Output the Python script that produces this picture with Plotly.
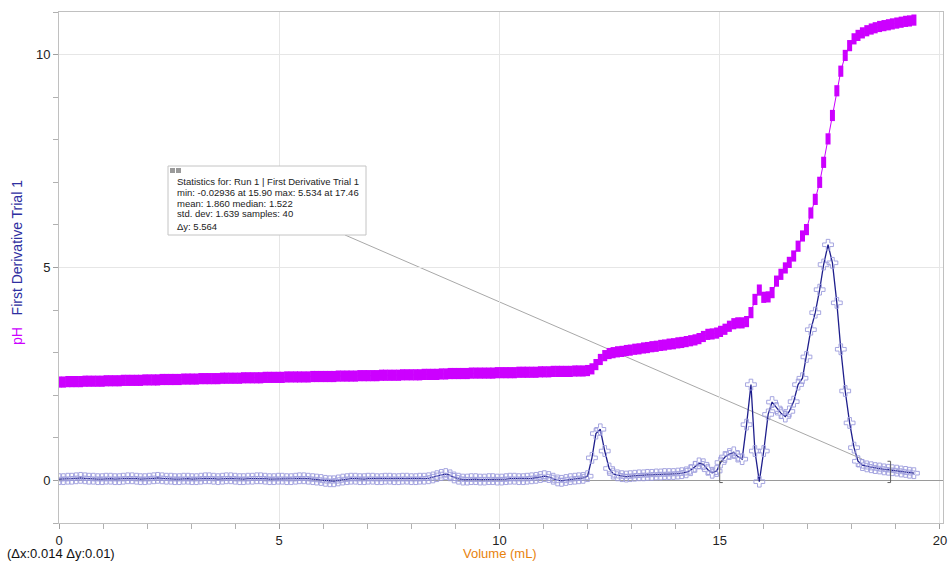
import plotly.graph_objects as go

# ---- data: titration run (volume of titrant added, pH, first derivative) ----
volume_ml = [
    0.00, 0.10, 0.20, 0.29, 0.39, 0.49, 0.59, 0.68, 0.78, 0.88,
    0.98, 1.07, 1.17, 1.27, 1.37, 1.46, 1.56, 1.66, 1.76, 1.85,
    1.95, 2.05, 2.15, 2.24, 2.34, 2.44, 2.54, 2.63, 2.73, 2.83,
    2.93, 3.02, 3.12, 3.22, 3.32, 3.41, 3.51, 3.61, 3.71, 3.80,
    3.90, 4.00, 4.10, 4.19, 4.29, 4.39, 4.49, 4.58, 4.68, 4.78,
    4.88, 4.98, 5.07, 5.17, 5.27, 5.37, 5.46, 5.56, 5.66, 5.76,
    5.85, 5.95, 6.05, 6.15, 6.24, 6.34, 6.44, 6.54, 6.63, 6.73,
    6.83, 6.93, 7.02, 7.12, 7.22, 7.32, 7.41, 7.51, 7.61, 7.71,
    7.80, 7.90, 8.00, 8.10, 8.19, 8.29, 8.39, 8.49, 8.58, 8.68,
    8.78, 8.88, 8.97, 9.07, 9.17, 9.27, 9.36, 9.46, 9.56, 9.66,
    9.76, 9.85, 9.95, 10.05, 10.15, 10.24, 10.34, 10.44, 10.54, 10.63,
    10.73, 10.83, 10.93, 11.02, 11.12, 11.22, 11.32, 11.41, 11.51, 11.61,
    11.71, 11.80, 11.90, 12.00, 12.10, 12.19, 12.29, 12.39, 12.49, 12.58,
    12.68, 12.78, 12.88, 12.97, 13.07, 13.17, 13.27, 13.36, 13.46, 13.56,
    13.66, 13.75, 13.85, 13.95, 14.05, 14.14, 14.24, 14.34, 14.44, 14.53,
    14.63, 14.73, 14.83, 14.93, 15.02, 15.12, 15.22, 15.32, 15.41, 15.51,
    15.61, 15.71, 15.80, 15.90, 16.00, 16.10, 16.19, 16.29, 16.39, 16.49,
    16.58, 16.68, 16.78, 16.88, 16.97, 17.07, 17.17, 17.27, 17.36, 17.46,
    17.56, 17.66, 17.75, 17.85, 17.95, 18.05, 18.14, 18.24, 18.34, 18.44,
    18.53, 18.63, 18.73, 18.83, 18.92, 19.02, 19.12, 19.22, 19.31, 19.41,
]

ph_values = [
    2.31, 2.31, 2.32, 2.32, 2.32, 2.32, 2.33, 2.33, 2.33, 2.33,
    2.33, 2.34, 2.34, 2.34, 2.34, 2.35, 2.35, 2.35, 2.35, 2.35,
    2.36, 2.36, 2.36, 2.36, 2.37, 2.37, 2.37, 2.37, 2.37, 2.38,
    2.38, 2.38, 2.38, 2.39, 2.39, 2.39, 2.39, 2.39, 2.40, 2.40,
    2.40, 2.40, 2.40, 2.41, 2.41, 2.41, 2.41, 2.41, 2.42, 2.42,
    2.42, 2.42, 2.42, 2.43, 2.43, 2.43, 2.43, 2.43, 2.43, 2.44,
    2.44, 2.44, 2.44, 2.44, 2.44, 2.45, 2.45, 2.45, 2.45, 2.45,
    2.46, 2.46, 2.46, 2.46, 2.46, 2.47, 2.47, 2.47, 2.47, 2.47,
    2.48, 2.48, 2.48, 2.48, 2.48, 2.49, 2.49, 2.49, 2.49, 2.50,
    2.50, 2.51, 2.51, 2.51, 2.51, 2.51, 2.52, 2.52, 2.52, 2.52,
    2.52, 2.52, 2.53, 2.53, 2.53, 2.53, 2.53, 2.54, 2.54, 2.54,
    2.54, 2.54, 2.55, 2.55, 2.55, 2.56, 2.56, 2.56, 2.56, 2.56,
    2.57, 2.57, 2.57, 2.58, 2.62, 2.72, 2.84, 2.93, 2.98, 3.00,
    3.02, 3.03, 3.05, 3.06, 3.08, 3.09, 3.11, 3.12, 3.14, 3.15,
    3.17, 3.18, 3.20, 3.21, 3.23, 3.24, 3.26, 3.28, 3.30, 3.33,
    3.38, 3.43, 3.44, 3.46, 3.50, 3.55, 3.62, 3.68, 3.70, 3.70,
    3.73, 3.94, 4.25, 4.47, 4.30, 4.31, 4.41, 4.68, 4.84, 4.99,
    5.12, 5.27, 5.50, 5.74, 5.89, 6.28, 6.60, 7.00, 7.47, 8.02,
    8.57, 9.15, 9.61, 9.98, 10.21, 10.37, 10.45, 10.51, 10.56, 10.60,
    10.63, 10.66, 10.68, 10.70, 10.72, 10.74, 10.76, 10.78, 10.79, 10.81,
]

first_derivative = [
    0.03, 0.03, 0.04, 0.04, 0.05, 0.06, 0.05, 0.04, 0.04, 0.03,
    0.03, 0.04, 0.04, 0.03, 0.03, 0.04, 0.05, 0.05, 0.04, 0.03,
    0.03, 0.04, 0.05, 0.06, 0.05, 0.04, 0.04, 0.03, 0.03, 0.04,
    0.04, 0.03, 0.03, 0.04, 0.05, 0.05, 0.04, 0.03, 0.04, 0.05,
    0.05, 0.04, 0.03, 0.03, 0.04, 0.04, 0.05, 0.05, 0.04, 0.03,
    0.03, 0.04, 0.04, 0.03, 0.03, 0.04, 0.05, 0.05, 0.04, 0.03,
    0.02, 0.01, -0.01, -0.02, -0.02, 0.00, 0.02, 0.03, 0.04, 0.04,
    0.03, 0.03, 0.04, 0.04, 0.03, 0.03, 0.04, 0.04, 0.03, 0.03,
    0.04, 0.04, 0.03, 0.03, 0.04, 0.04, 0.05, 0.07, 0.10, 0.13,
    0.15, 0.12, 0.07, 0.04, 0.02, 0.02, 0.03, 0.03, 0.02, 0.02,
    0.03, 0.03, 0.02, 0.02, 0.03, 0.04, 0.04, 0.03, 0.03, 0.04,
    0.05, 0.06, 0.08, 0.10, 0.08, 0.04, 0.00, -0.01, 0.01, 0.03,
    0.04, 0.05, 0.06, 0.10, 0.53, 1.10, 1.20, 0.69, 0.28, 0.16,
    0.12, 0.10, 0.09, 0.10, 0.11, 0.12, 0.12, 0.13, 0.13, 0.14,
    0.14, 0.15, 0.15, 0.15, 0.16, 0.17, 0.19, 0.24, 0.32, 0.40,
    0.38, 0.25, 0.18, 0.22, 0.42, 0.55, 0.62, 0.66, 0.56, 0.50,
    1.31, 2.25, 0.69, -0.02936, 0.69, 1.55, 1.84, 1.70, 1.58, 1.50,
    1.62, 1.85, 2.25, 2.40, 2.90, 3.54, 3.94, 4.48, 5.07, 5.534,
    5.11, 4.17, 3.08, 2.10, 1.35, 0.77, 0.45, 0.36, 0.33, 0.31,
    0.29, 0.28, 0.26, 0.25, 0.24, 0.23, 0.21, 0.20, 0.18, 0.17,
]

x_tick_values = [0, 5, 10, 15, 20]
y_tick_values = [0, 5, 10]

# statistics selection (bracketed region) and its summary text
selection_start = 15.0
selection_end = 18.88
stats_lines = [
    "Statistics for: Run 1 | First Derivative Trial 1",
    "min: -0.02936 at 15.90 max: 5.534 at 17.46",
    "mean: 1.860 median: 1.522",
    "std. dev: 1.639 samples: 40",
    "\u0394y: 5.564",
]
cursor_text = "(\u0394x:0.014 \u0394y:0.01)"

# ---- styling ----
PH_COLOR = "#CC00FF"
DERIV_LINE = "#1E1E8C"
DERIV_MARKER = "#9C9CDC"
FONT = "Arial, Liberation Sans, sans-serif"

W, H = 950, 565
PLOT_L, PLOT_R, PLOT_T, PLOT_B = 59, 943, 12, 523
X_RANGE = [0, 20.07]
Y_RANGE = [-1, 11]


def px_x(px):
    return (px - PLOT_L) / (PLOT_R - PLOT_L)


def px_y(py):
    return (PLOT_B - py) / (PLOT_B - PLOT_T)


def data_x(px):
    return X_RANGE[0] + px_x(px) * (X_RANGE[1] - X_RANGE[0])


def data_y(py):
    return Y_RANGE[0] + px_y(py) * (Y_RANGE[1] - Y_RANGE[0])


fig = go.Figure()

fig.add_trace(go.Scatter(
    x=volume_ml, y=ph_values, name="pH", mode="lines+markers",
    line=dict(color=PH_COLOR, width=1),
    marker=dict(symbol="line-ns", size=8, color=PH_COLOR,
                line=dict(color=PH_COLOR, width=5)),
    hoverinfo="skip",
))

fig.add_trace(go.Scatter(
    x=volume_ml, y=first_derivative, name="First Derivative Trial 1",
    mode="lines+markers",
    line=dict(color=DERIV_LINE, width=1.3),
    marker=dict(symbol="cross-open", size=9, color=DERIV_MARKER,
                line=dict(color=DERIV_MARKER, width=0.9)),
    hoverinfo="skip",
))

shapes = []

# leader line from the statistics box to the selected region
shapes.append(dict(type="line", xref="x", yref="y",
                   x0=data_x(345), y0=data_y(235), x1=data_x(862), y1=data_y(459),
                   line=dict(color="#a8a8a8", width=1), layer="below"))

# selection brackets
serif = 0.07
br_lo, br_hi = -0.05, 0.45
for xb, d in ((selection_start, serif), (selection_end, -serif)):
    shapes.append(dict(type="path", xref="x", yref="y",
                       path=f"M {xb + d},{br_hi} L {xb},{br_hi} L {xb},{br_lo} L {xb + d},{br_lo}",
                       line=dict(color="#606060", width=1)))

# statistics box
shapes.append(dict(type="rect", xref="paper", yref="paper",
                   x0=px_x(168), x1=px_x(366), y0=px_y(235), y1=px_y(166),
                   fillcolor="white", line=dict(color="#c4c4c4", width=1), layer="above"))
for x0, x1 in ((170, 175), (176, 181)):
    shapes.append(dict(type="rect", xref="paper", yref="paper",
                       x0=px_x(x0), x1=px_x(x1), y0=px_y(173), y1=px_y(168),
                       fillcolor="#9a9a9a", line=dict(width=0), layer="above"))

annotations = []
for text, cy in zip(stats_lines, (181, 192, 203, 213.5, 226)):
    annotations.append(dict(text=text, xref="paper", yref="paper",
                            x=px_x(175), y=px_y(cy), xanchor="left", yanchor="middle",
                            showarrow=False, font=dict(family=FONT, size=9.5, color="#222222")))

# y-axis title in two colours
annotations.append(dict(
    text=(f'<span style="color:{PH_COLOR}">pH</span>\u00a0\u00a0\u00a0'
          f'<span style="color:#2E2EA0">First Derivative Trial 1</span>'),
    xref="paper", yref="paper", x=px_x(17), y=px_y(263),
    xanchor="center", yanchor="middle", textangle=-90, showarrow=False,
    font=dict(family=FONT, size=14)))

# x-axis title and cursor readout
annotations.append(dict(text="Volume (mL)", xref="paper", yref="paper",
                        x=px_x(500), y=px_y(553), xanchor="center", yanchor="middle",
                        showarrow=False, font=dict(family=FONT, size=13, color="#E8820C")))
annotations.append(dict(text=cursor_text, xref="paper", yref="paper",
                        x=px_x(5), y=px_y(553), xanchor="left", yanchor="middle",
                        showarrow=False, font=dict(family=FONT, size=13, color="#111111")))

axis_common = dict(
    showline=True, linecolor="#c0c0c0", linewidth=1, mirror=True,
    showgrid=True, gridcolor="#e6e6e6", gridwidth=1,
    ticks="outside", ticklen=5, tickcolor="#a0a0a0", tickwidth=1,
    tickfont=dict(family=FONT, size=13, color="#222222"),
)

fig.update_layout(
    width=W, height=H,
    margin=dict(l=PLOT_L, r=W - PLOT_R, t=PLOT_T, b=H - PLOT_B, autoexpand=False),
    paper_bgcolor="white", plot_bgcolor="white",
    showlegend=False,
    shapes=shapes,
    annotations=annotations,
    xaxis=dict(range=X_RANGE, tickmode="array", tickvals=x_tick_values,
               zeroline=False,
               minor=dict(dtick=1, tick0=0, ticks="outside", ticklen=5,
                          tickcolor="#b0b0b0", showgrid=False),
               **axis_common),
    yaxis=dict(range=Y_RANGE, tickmode="array", tickvals=y_tick_values,
               zeroline=True, zerolinecolor="#9a9a9a", zerolinewidth=1,
               minor=dict(dtick=1, tick0=0, ticks="outside", ticklen=5,
                          tickcolor="#b0b0b0", showgrid=False),
               **axis_common),
)

fig.write_html("out.html", config={"displayModeBar": False})
